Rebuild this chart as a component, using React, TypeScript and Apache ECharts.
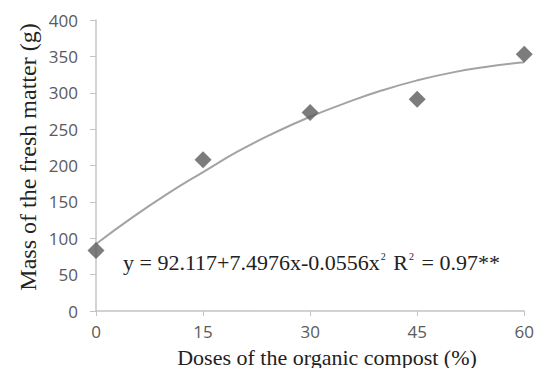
import React, { useEffect, useRef } from "react";
import * as echarts from "echarts";

const doses = [0, 15, 30, 45, 60];
const freshMass = [83, 208, 273, 291, 353];
// trend line
const trendX = [0, 5, 10, 15, 20, 25, 30, 35, 40, 45, 50, 55, 60];
const trendY = [92, 128, 161, 191, 220, 245, 267, 286, 303, 317, 328, 336, 342];
const xTicks = [0, 15, 30, 45, 60];
const yTicks = [0, 50, 100, 150, 200, 250, 300, 350, 400];
const xTitle = "Doses of the organic compost (%)";
const yTitle = "Mass of the fresh matter (g)";

export default function App() {
  const ref = useRef<HTMLDivElement>(null);
  useEffect(() => {
    if (!ref.current) return;
    const chart = echarts.init(ref.current, null, { renderer: "svg" });
    const axisLine = { lineStyle: { color: "#c4c4c4", width: 1.5 } };
    chart.setOption({
      animation: false,
      backgroundColor: "#ffffff",
      grid: { left: 96, right: 12, top: 20, bottom: 57 },
      xAxis: {
        type: "value",
        min: xTicks[0],
        max: xTicks[xTicks.length - 1],
        interval: 15,
        axisLine,
        axisTick: { show: true, length: 5, lineStyle: { color: "#c4c4c4" } },
        splitLine: { show: false },
        axisLabel: { color: "#5a5a5a", fontSize: 17, lineHeight: 17, fontFamily: "Open Sans", margin: 12 },
      },
      yAxis: {
        type: "value",
        min: yTicks[0],
        max: yTicks[yTicks.length - 1],
        interval: 50,
        axisLine: { show: true, ...axisLine },
        axisTick: { show: true, length: 6, lineStyle: { color: "#c4c4c4" } },
        splitLine: { show: false },
        axisLabel: { color: "#5a5a5a", fontSize: 17, lineHeight: 17, fontFamily: "Open Sans", margin: 18 },
      },
      series: [
        {
          type: "line",
          data: trendX.map((x, i) => [x, trendY[i]]),
          smooth: true,
          symbol: "none",
          lineStyle: { color: "#a3a3a3", width: 2 },
          z: 2,
        },
        {
          type: "scatter",
          data: doses.map((x, i) => [x, freshMass[i]]),
          symbol: "diamond",
          symbolSize: 17,
          itemStyle: { color: "#5b5b5b" },
          z: 3,
        },
      ],
      graphic: [
        {
          type: "text",
          x: 28,
          y: 157,
          rotation: Math.PI / 2,
          style: {
            text: yTitle,
            fill: "#222",
            font: "24px 'Liberation Serif'",
            lineHeight: 24,
            align: "center",
            verticalAlign: "middle",
          },
        },
        {
          type: "text",
          x: 327,
          y: 357,
          style: {
            text: xTitle,
            fill: "#222",
            font: "22px 'Liberation Serif'",
            lineHeight: 20,
            align: "center",
            verticalAlign: "middle",
          },
        },
        {
          type: "text",
          x: 123,
          y: 262,
          style: {
            text: "y = 92.117+7.4976x-0.0556x{s|2} R{s|2} = 0.97**",
            fill: "#222",
            font: "22px 'Liberation Serif'",
            verticalAlign: "middle",
            rich: {
              s: { fontSize: 10, fontFamily: "Liberation Serif", fill: "#222", verticalAlign: "top", padding: [0, 2, 10, 1] },
            },
          },
        },
      ],
    });
    return () => chart.dispose();
  }, []);
  return (
    <div
      ref={ref}
      style={{ position: "fixed", left: 0, top: 0, width: 537, height: 368 }}
    />
  );
}
